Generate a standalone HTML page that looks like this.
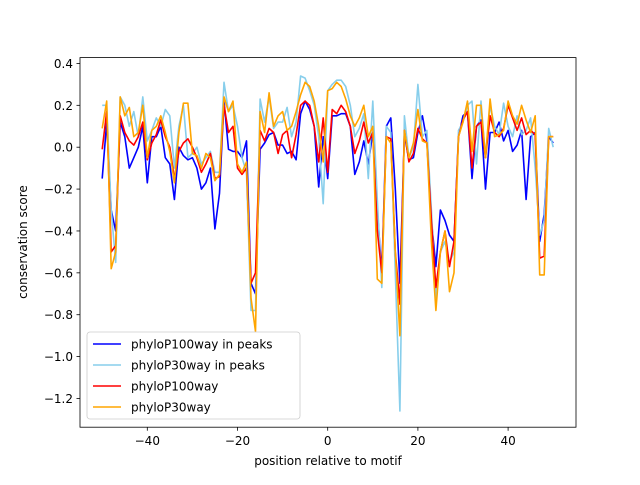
<!DOCTYPE html>
<html><head><meta charset="utf-8"><style>
body{margin:0;background:#fff}
svg text{font-family:"DejaVu Sans","Liberation Sans",sans-serif;font-size:12px;fill:#000}
</style></head><body>
<svg id="chart" width="640" height="480">
<rect x="0" y="0" width="640" height="480" fill="#fff"/>
<g id="series"></g>
<rect x="80" y="57.6" width="496" height="369.6" fill="none" stroke="#000" stroke-width="0.8"/>
<g id="xticks"></g><g id="yticks"></g>
<text x="328" y="465" text-anchor="middle">position relative to motif</text>
<text transform="translate(27,242) rotate(-90)" text-anchor="middle">conservation score</text>
<g>
<rect x="87" y="332" width="213" height="87" rx="3" fill="#fff" fill-opacity="0.8" stroke="#ccc" stroke-width="0.8"/>
<g id="legend-items"></g>
</g>
</svg>
<script>
const xs = []; for (let i=-50;i<=50;i++) xs.push(i);
const seriesNames = ["phyloP100way in peaks","phyloP30way in peaks","phyloP100way","phyloP30way"];
const seriesColors = ["#0000ff","#87ceeb","#ff0000","#ffa500"];
const blue = [-0.15,0.12,-0.3,-0.4,0.12,0.05,-0.1,-0.05,0.0,0.1,-0.17,0.05,0.05,0.1,-0.05,-0.08,-0.25,0.0,-0.04,-0.06,-0.05,-0.1,-0.2,-0.17,-0.1,-0.39,-0.22,0.22,-0.01,-0.02,-0.02,-0.05,0.03,-0.65,-0.7,-0.01,0.02,0.06,0.07,0.01,0.01,-0.03,-0.02,-0.06,0.16,0.22,0.18,0.1,-0.19,0.05,-0.15,0.15,0.15,0.16,0.16,0.1,-0.13,-0.07,0.03,-0.08,0.07,-0.3,-0.6,0.1,0.14,-0.2,-0.65,0.06,-0.06,-0.05,0.07,0.15,0.03,-0.35,-0.57,-0.3,-0.35,-0.42,-0.45,0.05,0.15,0.17,-0.15,0.1,0.13,-0.2,0.07,0.07,0.12,0.03,0.08,-0.02,0.01,0.08,-0.25,0.05,0.07,-0.45,-0.32,0.05,0.02];
const lightblue = [0.2,0.2,-0.3,-0.55,0.24,0.2,0.1,0.17,0.05,0.24,0.03,0.08,0.14,0.1,0.18,0.15,-0.1,0.1,0.2,-0.05,-0.03,0.0,-0.08,-0.05,-0.02,-0.12,-0.12,0.31,0.17,0.2,0.1,-0.05,-0.12,-0.78,-0.78,0.23,0.12,0.24,0.09,0.12,0.12,0.19,0.05,0.12,0.34,0.33,0.27,0.2,0.05,-0.27,0.27,0.3,0.32,0.32,0.29,0.2,0.05,0.09,0.16,-0.15,0.22,-0.25,-0.67,0.1,0.07,-0.6,-1.26,0.15,-0.05,0.0,0.3,0.05,0.08,-0.3,-0.72,-0.5,-0.45,-0.55,-0.5,0.08,0.12,0.2,0.22,-0.08,0.22,-0.05,0.2,0.1,0.06,0.21,0.1,0.05,0.15,0.06,0.08,0.14,-0.1,-0.42,-0.35,0.09,0.0];
const red = [-0.01,0.17,-0.5,-0.47,0.15,0.07,0.03,0.01,0.05,0.12,-0.06,0.02,0.06,0.13,0.05,0.0,-0.15,-0.02,0.02,0.04,0.0,-0.05,-0.12,-0.08,-0.03,-0.15,-0.14,0.2,0.07,0.1,-0.1,-0.13,-0.1,-0.65,-0.6,0.08,0.03,0.09,0.07,-0.03,0.06,0.08,-0.05,0.06,0.2,0.22,0.2,0.1,-0.07,0.14,-0.12,0.18,0.16,0.2,0.17,0.1,-0.03,0.03,0.12,0.02,0.07,-0.4,-0.6,0.05,0.04,-0.5,-0.75,0.08,-0.07,-0.03,0.09,0.04,0.02,-0.35,-0.67,-0.5,-0.4,-0.57,-0.45,0.05,0.13,0.17,-0.1,0.1,0.12,-0.05,0.15,0.07,0.05,0.09,0.2,0.14,0.08,0.14,0.06,0.08,0.06,-0.53,-0.52,0.05,0.05];
const orange = [0.09,0.22,-0.58,-0.5,0.24,0.15,0.19,0.05,0.07,0.2,-0.05,0.08,0.1,0.15,0.07,-0.02,-0.17,0.07,0.21,0.21,-0.03,-0.04,-0.1,-0.03,-0.05,-0.16,-0.13,0.24,0.17,0.22,-0.08,-0.12,-0.07,-0.72,-0.88,0.17,0.07,0.26,0.1,0.15,0.17,0.08,0.1,0.17,0.25,0.31,0.29,0.22,0.1,-0.07,0.27,0.28,0.31,0.29,0.23,0.15,0.1,0.14,0.2,0.05,0.1,-0.63,-0.65,0.05,0.02,-0.5,-0.9,0.08,-0.05,0.02,0.18,0.03,0.02,-0.45,-0.78,-0.5,-0.4,-0.69,-0.6,0.05,0.12,0.22,-0.02,0.2,0.2,-0.05,0.23,0.05,0.06,0.08,0.22,0.15,0.11,0.2,0.13,0.07,0.15,-0.61,-0.61,0.05,0.05];
const xTicks = [-40,-20,0,20,40];
const yTicks = [0.4,0.2,0.0,-0.2,-0.4,-0.6,-0.8,-1.0,-1.2];

const NS="http://www.w3.org/2000/svg";
const X = v => 327.7 + v*4.51;
const Y = v => 147.2 - v*209.4;
const allSeries=[blue,lightblue,red,orange];
const sg=document.getElementById('series');
allSeries.forEach((s,k)=>{
  const p=document.createElementNS(NS,'polyline');
  p.setAttribute('points', s.map((v,i)=>X(xs[i]).toFixed(1)+','+Y(v).toFixed(1)).join(' '));
  p.setAttribute('fill','none');p.setAttribute('stroke',seriesColors[k]);p.setAttribute('stroke-width','1.6');
  p.setAttribute('stroke-linejoin','round');
  
  
  sg.appendChild(p);
});
const xg=document.getElementById('xticks');
xTicks.forEach(t=>{
  const l=document.createElementNS(NS,'line');
  l.setAttribute('x1',X(t));l.setAttribute('x2',X(t));l.setAttribute('y1',427.2);l.setAttribute('y2',430.7);l.setAttribute('stroke','#000');l.setAttribute('stroke-width','0.8');
  
  
  xg.appendChild(l);
  const tx=document.createElementNS(NS,'text');
  tx.setAttribute('x',X(t));tx.setAttribute('y',445);tx.setAttribute('text-anchor','middle');
  tx.textContent=(t<0?'\u2212'+(-t):String(t));
  
  
  xg.appendChild(tx);
});
const yg=document.getElementById('yticks');
yTicks.forEach(t=>{
  const l=document.createElementNS(NS,'line');
  l.setAttribute('x1',76.5);l.setAttribute('x2',80);l.setAttribute('y1',Y(t));l.setAttribute('y2',Y(t));l.setAttribute('stroke','#000');l.setAttribute('stroke-width','0.8');
  
  
  yg.appendChild(l);
  const tx=document.createElementNS(NS,'text');
  tx.setAttribute('x',73);tx.setAttribute('y',Y(t)+4.5);tx.setAttribute('text-anchor','end');
  tx.textContent=(t<0?'\u2212':'')+Math.abs(t).toFixed(1);
  
  
  yg.appendChild(tx);
});
const lg=document.getElementById('legend-items');
seriesNames.forEach((n,k)=>{
  const y=344+k*21;
  const l=document.createElementNS(NS,'line');
  l.setAttribute('x1',93);l.setAttribute('x2',121);l.setAttribute('y1',y);l.setAttribute('y2',y);l.setAttribute('stroke',seriesColors[k]);l.setAttribute('stroke-width','1.5');
  
  
  lg.appendChild(l);
  const tx=document.createElementNS(NS,'text');
  tx.setAttribute('x',131);tx.setAttribute('y',y+4.5);tx.textContent=n;
  
  
  lg.appendChild(tx);
});
</script>
</body></html>
